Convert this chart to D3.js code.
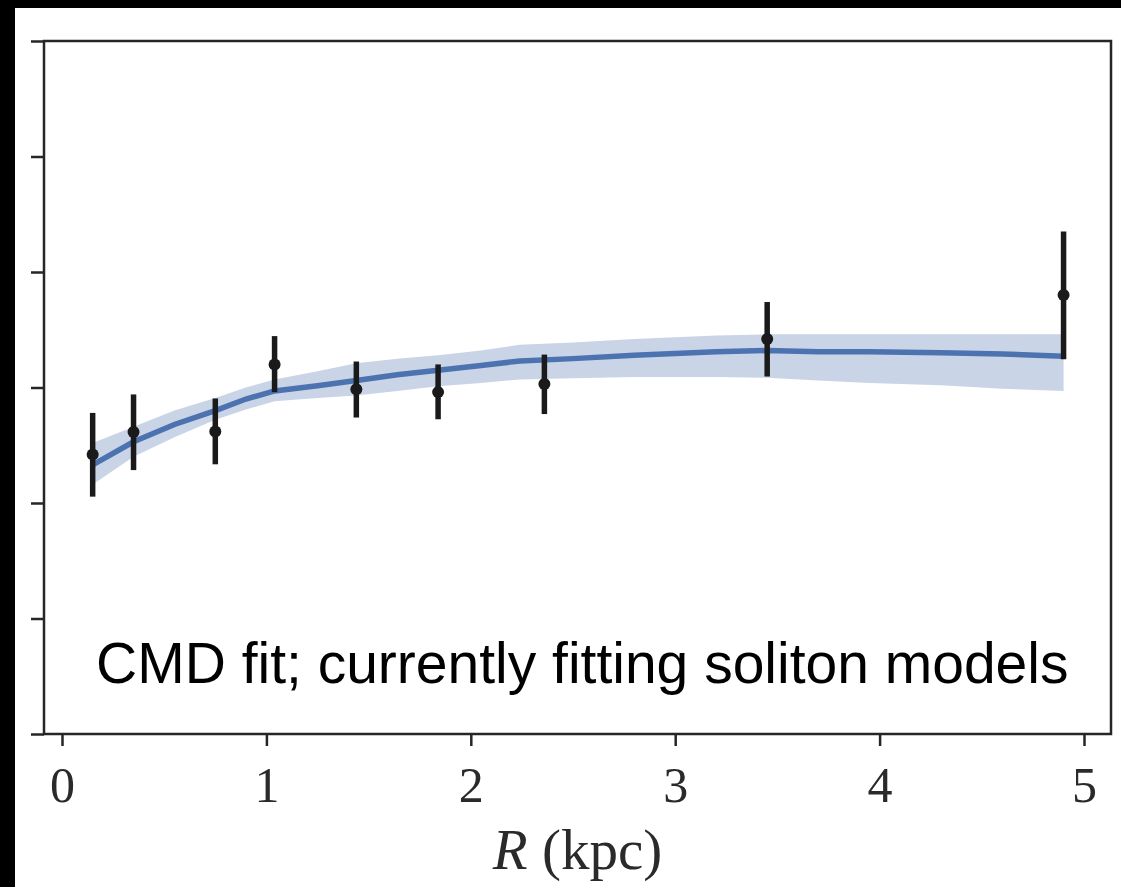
<!DOCTYPE html>
<html>
<head>
<meta charset="utf-8">
<script src="https://cdn.jsdelivr.net/npm/d3@7"></script>
<style>
  html, body { margin: 0; padding: 0; background: #000; }
  svg { display: block; }
</style>
</head>
<body>
<svg id="chart" width="1121" height="887"></svg>
<script>
// ---- data ----
const obsR    = [0.15, 0.35, 0.75, 1.04, 1.44, 1.84, 2.36, 3.45, 4.90];
const obsV    = [2.42, 2.615, 2.62, 3.20, 2.985, 2.96, 3.03, 3.42, 3.80];
const obsLo   = [2.055, 2.285, 2.335, 2.96, 2.74, 2.725, 2.77, 3.095, 3.245];
const obsHi   = [2.78, 2.94, 2.905, 3.445, 3.225, 3.20, 3.285, 3.74, 4.35];

const modelR  = [0.15, 0.35, 0.55, 0.75, 0.90, 1.04, 1.25, 1.44, 1.64, 1.84, 2.05, 2.24, 2.50, 2.80, 3.20, 3.45, 3.70, 3.95, 4.30, 4.60, 4.90];
const modelV  = [2.33, 2.53, 2.68, 2.80, 2.90, 2.97, 3.015, 3.06, 3.11, 3.15, 3.19, 3.23, 3.25, 3.28, 3.31, 3.32, 3.31, 3.31, 3.30, 3.29, 3.27];
const modelHi = [2.52, 2.66, 2.80, 2.91, 3.00, 3.07, 3.14, 3.21, 3.25, 3.28, 3.32, 3.37, 3.39, 3.42, 3.45, 3.46, 3.46, 3.46, 3.46, 3.46, 3.46];
const modelLo = [2.16, 2.40, 2.57, 2.72, 2.81, 2.88, 2.91, 2.93, 2.97, 3.01, 3.04, 3.07, 3.08, 3.09, 3.09, 3.085, 3.06, 3.04, 3.02, 2.99, 2.97];

const xTicks = [0, 1, 2, 3, 4, 5];
const yTicks = [0, 1, 2, 3, 4, 5, 6];
const annotation = "CMD fit; currently fitting soliton models";

// ---- layout ----
const W = 1121, H = 887;
const plot = { left: 44, right: 1111, top: 41, bottom: 734 };
const svg = d3.select("#chart");

svg.append("rect").attr("x", 0).attr("y", 0).attr("width", W).attr("height", H).attr("fill", "#000");
svg.append("rect").attr("x", 15).attr("y", 8).attr("width", W - 15).attr("height", H - 8).attr("fill", "#fff");

const x = d3.scaleLinear().domain([0, 5]).range([62, 1084]);
const y = d3.scaleLinear().domain([0, 6]).range([plot.bottom, plot.top]);

const axisColor = "#262626";

// band
const band = modelR.map((r, i) => ({ r, lo: modelLo[i], hi: modelHi[i], v: modelV[i] }));
svg.append("path")
  .datum(band)
  .attr("fill", "#4c72b0")
  .attr("fill-opacity", 0.3)
  .attr("d", d3.area().x(d => x(d.r)).y0(d => y(d.lo)).y1(d => y(d.hi)));

// model line
svg.append("path")
  .datum(band)
  .attr("fill", "none")
  .attr("stroke", "#4c72b0")
  .attr("stroke-width", 5.5)
  .attr("d", d3.line().x(d => x(d.r)).y(d => y(d.v)));

// error bars + points
const obs = obsR.map((r, i) => ({ r, v: obsV[i], lo: obsLo[i], hi: obsHi[i] }));
svg.append("g").selectAll("line")
  .data(obs).join("line")
  .attr("x1", d => x(d.r)).attr("x2", d => x(d.r))
  .attr("y1", d => y(d.lo)).attr("y2", d => y(d.hi))
  .attr("stroke", "#1a1a1a").attr("stroke-width", 5.5);
svg.append("g").selectAll("circle")
  .data(obs).join("circle")
  .attr("cx", d => x(d.r)).attr("cy", d => y(d.v)).attr("r", 6)
  .attr("fill", "#1a1a1a");

// frame
svg.append("rect")
  .attr("x", plot.left).attr("y", plot.top)
  .attr("width", plot.right - plot.left).attr("height", plot.bottom - plot.top)
  .attr("fill", "none").attr("stroke", axisColor).attr("stroke-width", 2.5);

// x axis
const xAxis = d3.axisBottom(x).tickValues(xTicks).tickSize(12).tickPadding(20).tickFormat(d3.format("d"));
const gx = svg.append("g").attr("transform", `translate(0,${plot.bottom})`).call(xAxis);
gx.select(".domain").remove();
gx.selectAll(".tick line").attr("stroke", axisColor).attr("stroke-width", 2.5);
gx.selectAll(".tick text")
  .attr("fill", "#2a2a2a")
  .style("font-family", "'Liberation Serif', 'DejaVu Serif', serif")
  .style("font-size", "50px");

// y axis (ticks only, no labels)
const yAxis = d3.axisLeft(y).tickValues(yTicks).tickSize(13).tickFormat("");
const gy = svg.append("g").attr("transform", `translate(${plot.left},0)`).call(yAxis);
gy.select(".domain").remove();
gy.selectAll(".tick line").attr("stroke", axisColor).attr("stroke-width", 2.5);

// x label
const xl = svg.append("text")
  .attr("x", (plot.left + plot.right) / 2).attr("y", 869)
  .attr("text-anchor", "middle")
  .attr("fill", "#2a2a2a")
  .style("font-family", "'Liberation Serif', 'DejaVu Serif', serif")
  .style("font-size", "57px");
xl.append("tspan").style("font-style", "italic").text("R");
xl.append("tspan").text(" (kpc)");

// annotation
svg.append("text")
  .attr("x", 96).attr("y", 683)
  .attr("fill", "#000")
  .style("font-family", "'Liberation Sans', Arial, sans-serif")
  .style("font-size", "57px")
  .text(annotation);
</script>
</body>
</html>
